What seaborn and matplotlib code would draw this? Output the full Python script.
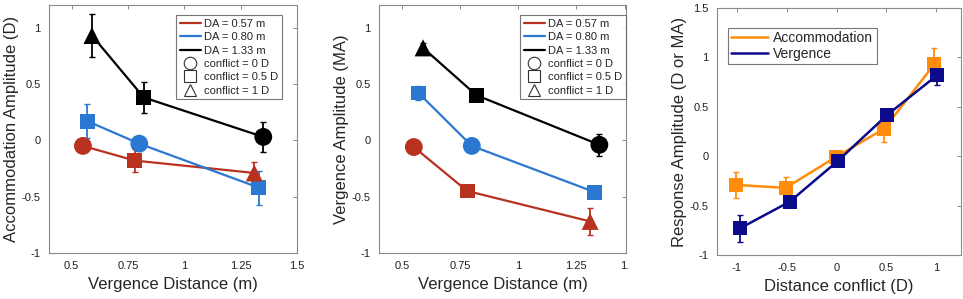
import numpy as np
import pandas as pd
import matplotlib.pyplot as plt
import seaborn as sns
from matplotlib.lines import Line2D

# --- data ---
da_labels = ['DA = 0.57 m', 'DA = 0.80 m', 'DA = 1.33 m']
da_colors = ['#B8321F', '#2A78D2', '#000000']
conflict_labels = ['conflict = 0 D', 'conflict = 0.5 D', 'conflict = 1 D']
conflict_markers = {0.0: 'o', 0.5: 's', 1.0: '^'}
marker_sizes = {0.0: 165, 0.5: 115, 1.0: 150}

# conflict level of each point, per DA group (shared by both left panels)
conflict_057 = [0.0, 0.5, 1.0]
conflict_080 = [0.5, 0.0, 0.5]
conflict_133 = [1.0, 0.5, 0.0]

# accommodation panel
acc_vd_057 = [0.55, 0.78, 1.31]
acc_amp_057 = [-0.05, -0.18, -0.29]
acc_err_057 = [0.03, 0.10, 0.10]
acc_vd_080 = [0.57, 0.80, 1.33]
acc_amp_080 = [0.17, -0.03, -0.42]
acc_err_080 = [0.15, 0.03, 0.15]
acc_vd_133 = [0.59, 0.82, 1.35]
acc_amp_133 = [0.93, 0.38, 0.03]
acc_err_133 = [0.19, 0.14, 0.13]

# vergence panel
ver_vd_057 = [0.55, 0.78, 1.31]
ver_amp_057 = [-0.06, -0.45, -0.72]
ver_err_057 = [0.02, 0.03, 0.12]
ver_vd_080 = [0.57, 0.80, 1.33]
ver_amp_080 = [0.42, -0.05, -0.46]
ver_err_080 = [0.06, 0.02, 0.02]
ver_vd_133 = [0.59, 0.82, 1.35]
ver_amp_133 = [0.82, 0.40, -0.04]
ver_err_133 = [0.04, 0.04, 0.10]

# summary panel
conflict_levels = [-1.0, -0.5, 0.0, 0.5, 1.0]
sum_acc = [-0.29, -0.32, -0.01, 0.28, 0.93]
sum_acc_err = [0.13, 0.11, 0.05, 0.14, 0.17]
sum_ver = [-0.73, -0.46, -0.05, 0.42, 0.82]
sum_ver_err = [0.14, 0.02, 0.02, 0.02, 0.10]
sum_x_acc = [-1.01, -0.51, -0.01, 0.48, 0.98]
sum_x_ver = [-0.97, -0.47, 0.01, 0.51, 1.01]
measure_labels = ['Accommodation', 'Vergence']
measure_colors = ['#FF8C0A', '#0A0A8A']


def long_frame(vds, amps, errs):
    rows = []
    confs = [conflict_057, conflict_080, conflict_133]
    for lab, vd, amp, err, cf in zip(da_labels, vds, amps, errs, confs):
        for a, b, c, d in zip(vd, amp, err, cf):
            rows.append({'da': lab, 'vd': a, 'amp': b, 'err': c, 'conflict': d})
    return pd.DataFrame(rows)


acc_df = long_frame([acc_vd_057, acc_vd_080, acc_vd_133],
                    [acc_amp_057, acc_amp_080, acc_amp_133],
                    [acc_err_057, acc_err_080, acc_err_133])
ver_df = long_frame([ver_vd_057, ver_vd_080, ver_vd_133],
                    [ver_amp_057, ver_amp_080, ver_amp_133],
                    [ver_err_057, ver_err_080, ver_err_133])

sum_df = pd.DataFrame({
    'measure': [measure_labels[0]] * 5 + [measure_labels[1]] * 5,
    'x': sum_x_acc + sum_x_ver,
    'amp': sum_acc + sum_ver,
    'err': sum_acc_err + sum_ver_err,
})

sns.set_theme(style='white')
plt.rcParams['font.family'] = ['Liberation Sans', 'DejaVu Sans']

fig = plt.figure(figsize=(9.63, 2.99), dpi=100)
ax1 = fig.add_axes([0.051, 0.154, 0.2575, 0.829])
ax2 = fig.add_axes([0.3936, 0.154, 0.2565, 0.829])
ax3 = fig.add_axes([0.7445, 0.147, 0.2535, 0.826])

pal = dict(zip(da_labels, da_colors))


def style_axes(ax):
    for sp in ax.spines.values():
        sp.set_color('#8a8a8a')
        sp.set_linewidth(0.8)
    ax.tick_params(direction='in', length=3, width=0.7, color='#8a8a8a',
                   top=True, right=True, labelsize=8, labelcolor='#222222', pad=6)


def draw_da_panel(ax, df, ylabel, leg_x):
    sns.lineplot(data=df, x='vd', y='amp', hue='da', palette=pal, sort=False,
                 legend=False, lw=1.6, ax=ax, zorder=2)
    for lab in da_labels:
        sub = df[df['da'] == lab]
        ax.errorbar(sub['vd'], sub['amp'], yerr=sub['err'], fmt='none',
                    ecolor=pal[lab], elinewidth=1.3, capsize=2.5, zorder=3)
    for cf, mk in conflict_markers.items():
        sub = df[df['conflict'] == cf]
        sns.scatterplot(data=sub, x='vd', y='amp', hue='da', palette=pal,
                        marker=mk, s=marker_sizes[cf], edgecolor='none',
                        legend=False, ax=ax, zorder=4)
    ax.set_ylim(-1, 1.2)
    ax.set_yticks([-1, -0.5, 0, 0.5, 1], ['-1', '-0.5', '0', '0.5', '1'])
    ax.set_xlabel('Vergence Distance (m)', fontsize=12, labelpad=4)
    ax.set_ylabel(ylabel, fontsize=12, labelpad=2)
    style_axes(ax)

    handles = [Line2D([], [], color=c, lw=1.6) for c in da_colors]
    handles += [Line2D([], [], ls='none', marker=m, mfc='none', mec='#333333',
                       ms=9, mew=0.8) for m in conflict_markers.values()]
    leg = ax.legend(handles, da_labels + conflict_labels, loc='upper right',
                    bbox_to_anchor=(leg_x, 0.96), fontsize=8, frameon=True,
                    fancybox=False, handlelength=1.9, handletextpad=0.3,
                    labelspacing=0.3, borderpad=0.35, borderaxespad=0)
    leg.get_frame().set_edgecolor('#555555')
    leg.get_frame().set_linewidth(0.8)


draw_da_panel(ax1, acc_df, 'Accommodation Amplitude (D)', 0.94)
ax1.set_xlim(0.4, 1.5)
ax1.set_xticks([0.5, 0.75, 1, 1.25, 1.5], ['0.5', '0.75', '1', '1.25', '1.5'])

draw_da_panel(ax2, ver_df, 'Vergence Amplitude (MA)', 1.0)
ax2.set_xlim(0.4, 1.465)
ax2.set_xticks([0.5, 0.75, 1, 1.25, 1.46], ['0.5', '0.75', '1', '1.25', '1.'])

# summary panel
mpal = dict(zip(measure_labels, measure_colors))
for lab in measure_labels:
    sub = sum_df[sum_df['measure'] == lab]
    ax3.errorbar(sub['x'], sub['amp'], yerr=sub['err'], fmt='none',
                 ecolor=mpal[lab], elinewidth=1.3, capsize=2.5, zorder=2)
    sns.lineplot(data=sub, x='x', y='amp', color=mpal[lab], marker='s',
                 markersize=10, markeredgewidth=0, lw=1.8, sort=False,
                 label=lab, ax=ax3, zorder=3)
ax3.set_xlim(-1.2, 1.25)
ax3.set_ylim(-1, 1.5)
ax3.set_xticks(conflict_levels, ['-1', '-0.5', '0', '0.5', '1'])
ax3.set_yticks([-1, -0.5, 0, 0.5, 1, 1.5], ['-1', '-0.5', '0', '0.5', '1', '1.5'])
ax3.set_xlabel('Distance conflict (D)', fontsize=12, labelpad=4)
ax3.set_ylabel('Response Amplitude (D or MA)', fontsize=12, labelpad=2)
style_axes(ax3)
h3 = [Line2D([], [], color=c, lw=1.8) for c in measure_colors]
leg3 = ax3.legend(h3, measure_labels, loc='upper left',
                  bbox_to_anchor=(0.045, 0.92), fontsize=10, frameon=True,
                  fancybox=False, handlelength=2.6, handletextpad=0.4,
                  labelspacing=0.1, borderpad=0.25, borderaxespad=0)
leg3.get_frame().set_edgecolor('#555555')
leg3.get_frame().set_linewidth(0.8)

fig.savefig('out.png', dpi=100)
